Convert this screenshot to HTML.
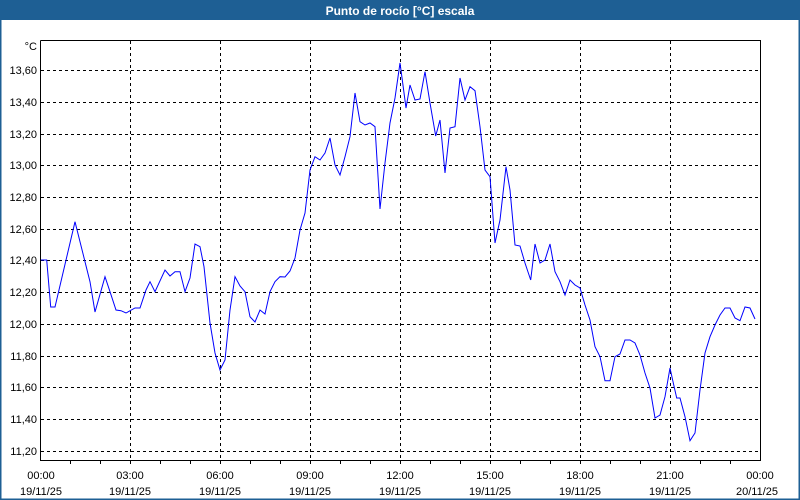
<!DOCTYPE html>
<html><head><meta charset="utf-8"><style>
html,body{margin:0;padding:0;background:#fff;}
body{width:800px;height:500px;overflow:hidden;position:relative;font-family:"Liberation Sans",sans-serif;}
</style></head><body>
<svg width="800" height="500" xmlns="http://www.w3.org/2000/svg" style="position:absolute;left:0;top:0">
<rect x="0" y="0" width="800" height="500" fill="#fff"/>
<rect x="0" y="0" width="800" height="20" fill="#1e5f94"/>
<rect x="0" y="20" width="1.5" height="480" fill="#1e5f94"/>
<rect x="798.5" y="20" width="1.5" height="480" fill="#1e5f94"/>
<rect x="0" y="498.5" width="800" height="1.5" fill="#1e5f94"/>
<text x="400" y="15" fill="#fff" font-size="12" font-weight="bold" text-anchor="middle" font-family="Liberation Sans, sans-serif">Punto de rocío [°C] escala</text>
<g stroke="#000" stroke-width="1" stroke-dasharray="3,3" shape-rendering="crispEdges">
<line x1="41" x2="760" y1="70.5" y2="70.5"/>
<line x1="41" x2="760" y1="102.5" y2="102.5"/>
<line x1="41" x2="760" y1="134.5" y2="134.5"/>
<line x1="41" x2="760" y1="165.5" y2="165.5"/>
<line x1="41" x2="760" y1="197.5" y2="197.5"/>
<line x1="41" x2="760" y1="229.5" y2="229.5"/>
<line x1="41" x2="760" y1="260.5" y2="260.5"/>
<line x1="41" x2="760" y1="292.5" y2="292.5"/>
<line x1="41" x2="760" y1="324.5" y2="324.5"/>
<line x1="41" x2="760" y1="356.5" y2="356.5"/>
<line x1="41" x2="760" y1="387.5" y2="387.5"/>
<line x1="41" x2="760" y1="419.5" y2="419.5"/>
<line x1="41" x2="760" y1="451.5" y2="451.5"/>
<line y1="41" y2="460" x1="130.5" x2="130.5"/>
<line y1="41" y2="460" x1="220.5" x2="220.5"/>
<line y1="41" y2="460" x1="310.5" x2="310.5"/>
<line y1="41" y2="460" x1="400.5" x2="400.5"/>
<line y1="41" y2="460" x1="490.5" x2="490.5"/>
<line y1="41" y2="460" x1="580.5" x2="580.5"/>
<line y1="41" y2="460" x1="670.5" x2="670.5"/>
</g>
<g stroke="#000" stroke-width="1" shape-rendering="crispEdges">
<polyline points="40.5,40.5 760.5,40.5 760.5,460.5 40.5,460.5 40.5,40.5" fill="none"/>
<path d="M70.5 461v3M100.5 461v3M130.5 461v3M160.5 461v3M190.5 461v3M220.5 461v3M250.5 461v3M280.5 461v3M310.5 461v3M340.5 461v3M370.5 461v3M400.5 461v3M430.5 461v3M460.5 461v3M490.5 461v3M520.5 461v3M550.5 461v3M580.5 461v3M610.5 461v3M640.5 461v3M670.5 461v3M700.5 461v3M730.5 461v3"/>
</g>
<polyline fill="none" stroke="#0000ff" stroke-width="1" points="41,260 46.7,260 50.7,307 55,307 75,221.7 85,261.7 90,281.7 95,312 105,276.7 110,291.7 116,310 121,310.7 126,313 135,308 140,308 146,290 150,281.7 155,291.7 165,270 170,276 175,271.7 180,271.7 185,291.7 190,278 195,244 200,246.7 204,266.7 210,323 215,353 220,370 225,360 230,310 235,276.7 240,286 245,291.7 250,316.7 255,322 260,310 265,314 270,291.7 275,281.7 280,276.7 285,277 290,271 295,258 300,230 305,213 310,170 315,156.7 320,160 325,153 330,138 335,165 340,175 345,156.7 350,136.7 355,93 360,121.7 365,125 370,123 375,126.7 380,209 385,163 390,123 395,98 400,63 402.7,83 406,108 410,85 415,100 420,99 425,71.7 430,103 435.7,136 440,120 445,173 450,128 455,126.7 460,78 465,100 470,86.7 475,90.7 480,126.7 485,170 490,176.7 495,243 500,220 506,166.7 510,190 515,245 520,246 525,263 530.7,280 535,244 540,263 545,260 550,244 555,271.7 560,281.7 565,295 570,280 575,285 580,288 585,305 590,320 595,346.7 600,356.7 605,380.7 610,380.7 615,356.7 620,354 625,340 630,340 635,343 640,355 645,373 650,388 655,418 660,415 665,396.7 670,368 673,381.7 676.7,398 680,398 685,416.7 690,440.7 695,433 700,390 705,353 710,336.7 715,325 720,315 725,308 730,308 735,318 740,320.7 745,307 750,308 755,319"/>
<g font-size="11" fill="#000" text-anchor="end" font-family="Liberation Sans, sans-serif">
<text x="37" y="50">°C</text>
<text x="37" y="74">13,60</text>
<text x="37" y="106">13,40</text>
<text x="37" y="138">13,20</text>
<text x="37" y="169">13,00</text>
<text x="37" y="201">12,80</text>
<text x="37" y="233">12,60</text>
<text x="37" y="264">12,40</text>
<text x="37" y="296">12,20</text>
<text x="37" y="328">12,00</text>
<text x="37" y="360">11,80</text>
<text x="37" y="391">11,60</text>
<text x="37" y="423">11,40</text>
<text x="37" y="455">11,20</text>
</g>
<g font-size="11" fill="#000" text-anchor="middle" font-family="Liberation Sans, sans-serif">
<text x="41" y="479">00:00</text><text x="41" y="495">19/11/25</text>
<text x="130" y="479">03:00</text><text x="130" y="495">19/11/25</text>
<text x="220" y="479">06:00</text><text x="220" y="495">19/11/25</text>
<text x="310" y="479">09:00</text><text x="310" y="495">19/11/25</text>
<text x="400" y="479">12:00</text><text x="400" y="495">19/11/25</text>
<text x="490" y="479">15:00</text><text x="490" y="495">19/11/25</text>
<text x="580" y="479">18:00</text><text x="580" y="495">19/11/25</text>
<text x="670" y="479">21:00</text><text x="670" y="495">19/11/25</text>
<text x="760" y="479">00:00</text><text x="757" y="495">20/11/25</text>
</g>
</svg>
</body></html>
